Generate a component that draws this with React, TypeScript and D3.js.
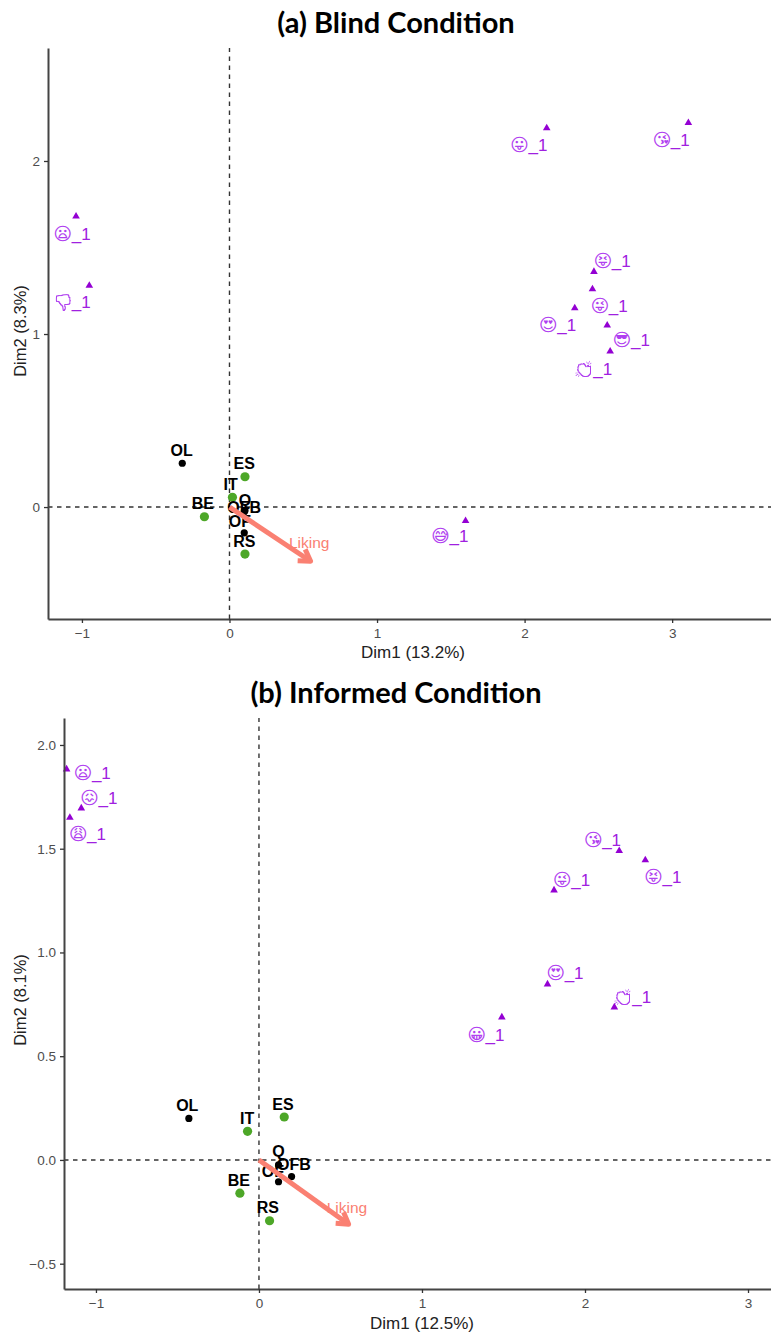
import * as React from 'react';
import * as d3 from 'd3';

const SANS = '"Liberation Sans", Arial, sans-serif';

// (a) blind condition
const blindEmoji = ['😦', '👎', '😛', '😘', '😝', '😜', '😍', '😎', '👏', '😅'];
const blindEmojiX = [-1.04, -0.95, 2.15, 3.11, 2.47, 2.46, 2.34, 2.56, 2.58, 1.6];
const blindEmojiY = [1.68, 1.28, 2.19, 2.22, 1.36, 1.26, 1.15, 1.05, 0.9, -0.08];
const blindEmojiLabelX = [-1.13, -1.13, 1.965, 2.93, 2.53, 2.51, 2.16, 2.66, 2.405, 1.43];
const blindEmojiLabelY = [1.58, 1.185, 2.09, 2.12, 1.42, 1.16, 1.05, 0.965, 0.8, -0.17];
const blindBlack = ['OL', 'Q', 'OFB', 'OF'];
const blindBlackX = [-0.32, 0.1, 0.105, 0.1];
const blindBlackY = [0.253, -0.027, -0.02, -0.149];
const blindBlackLabelX = [-0.324, 0.105, 0.1, 0.07];
const blindBlackLabelY = [0.324, 0.04, 0.0, -0.081];
const blindGreen = ['ES', 'IT', 'BE', 'RS'];
const blindGreenX = [0.105, 0.02, -0.17, 0.105];
const blindGreenY = [0.175, 0.056, -0.056, -0.272];
const blindGreenLabelX = [0.1, 0.008, -0.18, 0.1];
const blindGreenLabelY = [0.253, 0.131, 0.021, -0.2];
const blindLiking = [0.55, -0.313];
const blindLikingLabel = [0.54, -0.204];

// (b) informed condition
const informedEmoji = ['😦', '😖', '😩', '😘', '😝', '😜', '😍', '👏', '😀'];
const informedEmojiX = [-1.18, -1.09, -1.16, 2.21, 2.37, 1.81, 1.77, 2.18, 1.49];
const informedEmojiY = [1.883, 1.695, 1.65, 1.49, 1.445, 1.3, 0.847, 0.736, 0.688];
const informedEmojiLabelX = [-1.08, -1.04, -1.11, 2.05, 2.42, 1.86, 1.82, 2.235, 1.335];
const informedEmojiLabelY = [1.867, 1.743, 1.57, 1.542, 1.365, 1.35, 0.9, 0.784, 0.602];
const informedBlack = ['OL', 'Q', 'OFB', 'OF'];
const informedBlackX = [-0.43, 0.12, 0.2, 0.12];
const informedBlackY = [0.2, -0.024, -0.08, -0.105];
const informedBlackLabelX = [-0.44, 0.12, 0.215, 0.085];
const informedBlackLabelY = [0.26, 0.04, -0.024, -0.055];
const informedGreen = ['ES', 'IT', 'BE', 'RS'];
const informedGreenX = [0.155, -0.07, -0.117, 0.065];
const informedGreenY = [0.207, 0.138, -0.16, -0.293];
const informedGreenLabelX = [0.147, -0.072, -0.123, 0.055];
const informedGreenLabelY = [0.267, 0.198, -0.099, -0.229];
const informedLiking = [0.55, -0.31];
const informedLikingLabel = [0.54, -0.227];

const blindXTicks = [-1, 0, 1, 2, 3];
const blindYTicks = [0, 1, 2];
const informedXTicks = [-1, 0, 1, 2, 3];
const informedYTicks = [-0.5, 0, 0.5, 1, 1.5, 2];

// these two glyphs only exist in colour, so they get drawn as an outline
const colourGlyphs = ['👎', '👏'];

const drawPanel = (root, p) => {
  const x = d3.scaleLinear().domain(p.xDomain).range([p.left, 771]);
  const y = d3.scaleLinear().domain(p.yDomain).range([p.bottom, p.top]);
  const g = root.append('g');

  g.append('text')
    .attr('x', 396)
    .attr('y', p.top - 15)
    .attr('text-anchor', 'middle')
    .attr('font-family', 'Lato, sans-serif')
    .attr('font-weight', 700)
    .attr('font-size', 29)
    .attr('fill', '#000')
    .text(p.title);

  // dashed zero lines
  g.append('line')
    .attr('x1', x.range()[0]).attr('x2', x.range()[1])
    .attr('y1', y(0)).attr('y2', y(0))
    .attr('stroke', '#333').attr('stroke-width', 1.4).attr('stroke-dasharray', '4.5 4.5');
  g.append('line')
    .attr('x1', x(0)).attr('x2', x(0))
    .attr('y1', y.range()[0]).attr('y2', y.range()[1])
    .attr('stroke', '#333').attr('stroke-width', 1.4).attr('stroke-dasharray', '4.5 4.5');

  // emoji triangles
  const tri = d3.symbol().type(d3.symbolTriangle).size(25);
  p.emoji.forEach((_, i) => {
    g.append('path')
      .attr('d', tri())
      .attr('transform', `translate(${x(p.emojiX[i])},${y(p.emojiY[i])})`)
      .attr('fill', '#9400D3');
  });
  p.emoji.forEach((e, i) => {
    const lx = x(p.emojiLabelX[i]);
    const ly = y(p.emojiLabelY[i]);
    g.append('text')
      .attr('x', lx)
      .attr('y', ly + 6)
      .attr('text-anchor', 'middle')
      .attr('font-family', '"DejaVu Sans"')
      .attr('font-size', colourGlyphs.includes(e) ? 16 : 18)
      .attr('fill', '#B040F0')
      .attr('filter', colourGlyphs.includes(e) ? 'url(#glyph-outline)' : null)
      .text(e);
    g.append('text')
      .attr('x', lx + 9)
      .attr('y', ly + 6)
      .attr('font-family', SANS)
      .attr('font-size', 17)
      .attr('fill', '#A020E0')
      .text('_1');
  });

  // points
  p.black.forEach((_, i) => {
    g.append('circle')
      .attr('cx', x(p.blackX[i])).attr('cy', y(p.blackY[i]))
      .attr('r', 3.6).attr('fill', '#000');
  });
  p.green.forEach((_, i) => {
    g.append('circle')
      .attr('cx', x(p.greenX[i])).attr('cy', y(p.greenY[i]))
      .attr('r', 4.6).attr('fill', '#4DA728');
  });
  const labelText = (names, lx, ly) => {
    names.forEach((name, i) => {
      g.append('text')
        .attr('x', x(lx[i])).attr('y', y(ly[i]) + 5.5)
        .attr('text-anchor', 'middle')
        .attr('font-family', SANS)
        .attr('font-weight', 700)
        .attr('font-size', 16)
        .attr('fill', '#000')
        .text(name);
    });
  };
  labelText(p.black, p.blackLabelX, p.blackLabelY);
  labelText(p.green, p.greenLabelX, p.greenLabelY);

  // liking arrow
  const x0 = x(0), y0 = y(0), x1 = x(p.liking[0]), y1 = y(p.liking[1]);
  const ang = Math.atan2(y1 - y0, x1 - x0);
  const head = 13;
  const spread = 0.55;
  const line = d3.line();
  g.append('path')
    .attr('d', line([[x0, y0], [x1, y1]]))
    .attr('stroke', '#FA8072').attr('stroke-width', 5).attr('fill', 'none');
  g.append('path')
    .attr('d', line([
      [x1 - head * Math.cos(ang - spread), y1 - head * Math.sin(ang - spread)],
      [x1, y1],
      [x1 - head * Math.cos(ang + spread), y1 - head * Math.sin(ang + spread)]
    ]))
    .attr('stroke', '#FA8072').attr('stroke-width', 5).attr('stroke-linejoin', 'round').attr('fill', 'none');
  g.append('text')
    .attr('x', x(p.likingLabel[0])).attr('y', y(p.likingLabel[1]) + 5.5)
    .attr('text-anchor', 'middle')
    .attr('font-family', SANS)
    .attr('font-size', 15.5)
    .attr('fill', '#FA8072')
    .text('Liking');

  // axes
  const xAxis = d3.axisBottom(x).tickValues(p.xTicks).tickFormat(d3.format('d')).tickSizeInner(4).tickSizeOuter(0).tickPadding(5);
  const yAxis = d3.axisLeft(y).tickValues(p.yTicks).tickFormat(d3.format(p.yFormat)).tickSizeInner(4).tickSizeOuter(0).tickPadding(4);
  const ax = g.append('g').attr('transform', `translate(0,${p.bottom})`).call(xAxis);
  const ay = g.append('g').attr('transform', `translate(${p.left},0)`).call(yAxis);
  [ax, ay].forEach(a => {
    a.select('.domain').attr('stroke', '#444').attr('stroke-width', 2);
    a.selectAll('.tick line').attr('stroke', '#333').attr('stroke-width', 1.3);
    a.selectAll('.tick text')
      .attr('font-family', SANS)
      .attr('font-size', 13.5)
      .attr('fill', '#4D4D4D');
  });

  g.append('text')
    .attr('x', p.xTitleX).attr('y', p.xTitleY)
    .attr('text-anchor', 'middle')
    .attr('font-family', SANS).attr('font-size', 17).attr('fill', '#222')
    .text(p.xTitle);
  g.append('text')
    .attr('transform', `translate(26,${p.yTitleY}) rotate(-90)`)
    .attr('text-anchor', 'middle')
    .attr('font-family', SANS).attr('font-size', 16.5).attr('fill', '#222')
    .text(p.yTitle);
};

const App = () => {
  const nodeRef = React.useRef(null);

  React.useEffect(() => {
    const svg = d3.select(nodeRef.current);
    svg.selectAll('*').remove();

    const filter = svg.append('defs').append('filter').attr('id', 'glyph-outline');
    filter.append('feMorphology')
      .attr('in', 'SourceAlpha').attr('operator', 'erode').attr('radius', 0.8).attr('result', 'inner');
    filter.append('feComposite')
      .attr('in', 'SourceAlpha').attr('in2', 'inner').attr('operator', 'out').attr('result', 'ring');
    filter.append('feFlood').attr('flood-color', '#B040F0').attr('result', 'tint');
    filter.append('feComposite').attr('in', 'tint').attr('in2', 'ring').attr('operator', 'in');

    drawPanel(svg, {
      title: '(a) Blind Condition',
      left: 48, top: 48, bottom: 619,
      xDomain: [-1.23, 3.67], yDomain: [-0.647, 2.653],
      xTicks: blindXTicks, yTicks: blindYTicks, yFormat: 'd',
      xTitle: 'Dim1 (13.2%)', yTitle: 'Dim2 (8.3%)',
      xTitleX: 413, xTitleY: 658, yTitleY: 331,
      emoji: blindEmoji, emojiX: blindEmojiX, emojiY: blindEmojiY,
      emojiLabelX: blindEmojiLabelX, emojiLabelY: blindEmojiLabelY,
      black: blindBlack, blackX: blindBlackX, blackY: blindBlackY,
      blackLabelX: blindBlackLabelX, blackLabelY: blindBlackLabelY,
      green: blindGreen, greenX: blindGreenX, greenY: blindGreenY,
      greenLabelX: blindGreenLabelX, greenLabelY: blindGreenLabelY,
      liking: blindLiking, likingLabel: blindLikingLabel
    });
    drawPanel(svg, {
      title: '(b) Informed Condition',
      left: 64, top: 718, bottom: 1289,
      xDomain: [-1.196, 3.141], yDomain: [-0.622, 2.13],
      xTicks: informedXTicks, yTicks: informedYTicks, yFormat: '.1f',
      xTitle: 'Dim1 (12.5%)', yTitle: 'Dim2 (8.1%)',
      xTitleX: 422, xTitleY: 1329, yTitleY: 1000,
      emoji: informedEmoji, emojiX: informedEmojiX, emojiY: informedEmojiY,
      emojiLabelX: informedEmojiLabelX, emojiLabelY: informedEmojiLabelY,
      black: informedBlack, blackX: informedBlackX, blackY: informedBlackY,
      blackLabelX: informedBlackLabelX, blackLabelY: informedBlackLabelY,
      green: informedGreen, greenX: informedGreenX, greenY: informedGreenY,
      greenLabelX: informedGreenLabelX, greenLabelY: informedGreenLabelY,
      liking: informedLiking, likingLabel: informedLikingLabel
    });
  }, []);

  return (
    <svg
      ref={nodeRef}
      width={771}
      height={1334}
      style={{ position: 'absolute', left: 0, top: 0, display: 'block', background: '#fff' }}
    />
  );
};

export default App;
